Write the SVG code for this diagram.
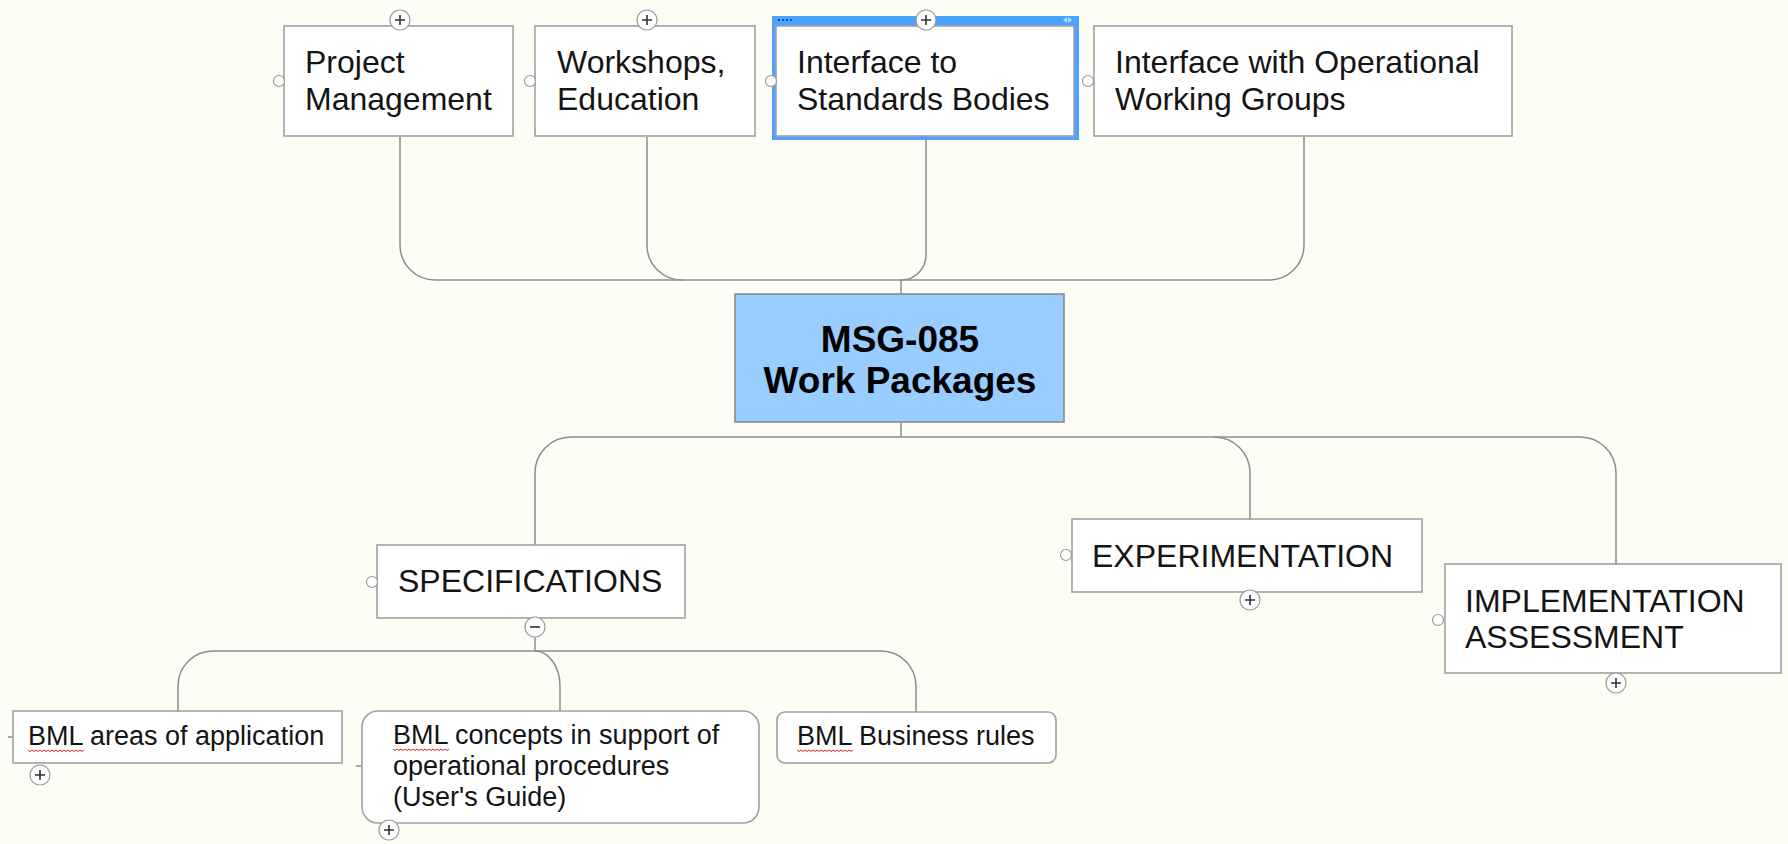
<svg xmlns="http://www.w3.org/2000/svg" xmlns:xlink="http://www.w3.org/1999/xlink" width="1788" height="844" viewBox="0 0 1788 844">
<style>
.box{fill:#ffffff;stroke:#a0a0a0;stroke-width:1.6}
.conn{fill:none;stroke:#8c8c8c;stroke-width:1.5}
.t{font-family:"Liberation Sans",Arial,sans-serif;font-size:32px;fill:#141414}
.t2{font-family:"Liberation Sans",Arial,sans-serif;font-size:27px;fill:#141414}
.tc{font-family:"Liberation Sans",Arial,sans-serif;font-size:37px;font-weight:bold;fill:#000;text-anchor:middle}
.hc{fill:#ffffff;stroke:#9a9a9a;stroke-width:1.2}
.pl{stroke:#333;stroke-width:1.6;fill:none}
.sq{fill:none;stroke:#e02020;stroke-width:1}
</style>
<defs>
<g id="plus"><circle class="hc" cx="0" cy="0" r="10"/><path class="pl" d="M-5,0H5M0,-5V5"/></g>
<g id="minus"><circle class="hc" cx="0" cy="0" r="10"/><path class="pl" d="M-5,0H5"/></g>
<circle id="lc" class="hc" cx="0" cy="0" r="5.5"/>
<path id="squig" class="sq" d="M0,0 l2,1.5 l2,-1.5 l2,1.5 l2,-1.5 l2,1.5 l2,-1.5 l2,1.5 l2,-1.5 l2,1.5 l2,-1.5 l2,1.5 l2,-1.5 l2,1.5 l2,-1.5 l2,1.5 l2,-1.5 l2,1.5 l2,-1.5 l2,1.5 l2,-1.5 l2,1.5 l2,-1.5 l2,1.5 l2,-1.5 l2,1.5 l2,-1.5 l2,1.5 l2,-1.5"/>
</defs>
<rect x="0" y="0" width="1788" height="844" fill="#fefdf5"/>

<g id="connectors">
<path class="conn" d="M400,137 V245 A35,35 0 0 0 435,280 H1269 A35,35 0 0 0 1304,245 V137"/>
<path class="conn" d="M647,137 V245 A35,35 0 0 0 682,280"/>
<path class="conn" d="M926,140 V255 A25,25 0 0 1 901,280"/>
<path class="conn" d="M901,280 V294"/>
<path class="conn" d="M901,422 V437"/>
<path class="conn" d="M535,545 V473 A36,36 0 0 1 571,437 H1580 A36,36 0 0 1 1616,473 V564"/>
<path class="conn" d="M1214,437 A36,36 0 0 1 1250,473 V519"/>
<path class="conn" d="M535,637 V651"/>
<path class="conn" d="M178,711 V686 A35,35 0 0 1 213,651 H881 A35,35 0 0 1 916,686 V712"/>
<path class="conn" d="M535,651 A25,35 0 0 1 560,686 V711"/>
<path class="conn" d="M8,737 H13"/>
<path class="conn" d="M356,766 H362"/>
</g>

<g id="project-management">
<rect class="box" x="284" y="26" width="229" height="110"/>
<text class="t" x="305" y="73">Project</text>
<text class="t" x="305" y="110">Management</text>
<use href="#plus" x="400" y="20"/>
<use href="#lc" x="279" y="81"/>
</g>

<g id="workshops">
<rect class="box" x="535" y="26" width="220" height="110"/>
<text class="t" x="557" y="73">Workshops,</text>
<text class="t" x="557" y="110">Education</text>
<use href="#plus" x="647" y="20"/>
<use href="#lc" x="530" y="81"/>
</g>

<g id="interface-standards">
<rect x="772" y="16" width="307" height="124" fill="#4aa3ff"/>
<rect x="776" y="26" width="298" height="110" fill="#ffffff" stroke="#a0a0a0" stroke-width="1.6"/>
<g fill="#1a4f9a"><rect x="778" y="19" width="2" height="2"/><rect x="782" y="19" width="2" height="2"/><rect x="786" y="19" width="2" height="2"/><rect x="790" y="19" width="2" height="2"/></g>
<polygon points="1063,20 1067,17 1067,23" fill="#b8dcff"/>
<polygon points="1072,20 1068,17 1068,23" fill="#b8dcff"/>
<text class="t" x="797" y="73">Interface to</text>
<text class="t" x="797" y="110">Standards Bodies</text>
<use href="#plus" x="926" y="20"/>
<use href="#lc" x="771" y="81"/>
</g>

<g id="interface-operational">
<rect class="box" x="1094" y="26" width="418" height="110"/>
<text class="t" x="1115" y="73">Interface with Operational</text>
<text class="t" x="1115" y="110">Working Groups</text>
<use href="#lc" x="1088" y="81"/>
</g>

<g id="center">
<rect x="735" y="294" width="329" height="128" fill="#99ccff" stroke="#8a8a8a" stroke-width="1.6"/>
<text class="tc" x="900" y="352">MSG-085</text>
<text class="tc" x="900" y="393">Work Packages</text>
</g>

<g id="specifications">
<rect class="box" x="377" y="545" width="308" height="73"/>
<text class="t" x="398" y="592">SPECIFICATIONS</text>
<use href="#lc" x="372" y="582"/>
<use href="#minus" x="535" y="627"/>
</g>

<g id="experimentation">
<rect class="box" x="1072" y="519" width="350" height="73"/>
<text class="t" x="1092" y="567">EXPERIMENTATION</text>
<use href="#lc" x="1066" y="555"/>
<use href="#plus" x="1250" y="600"/>
</g>

<g id="implementation">
<rect class="box" x="1445" y="564" width="336" height="109"/>
<text class="t" x="1465" y="612">IMPLEMENTATION</text>
<text class="t" x="1465" y="648">ASSESSMENT</text>
<use href="#lc" x="1438" y="620"/>
<use href="#plus" x="1616" y="683"/>
</g>

<g id="bml-areas">
<rect class="box" x="13" y="711" width="329" height="52"/>
<text class="t2" x="28" y="745">BML areas of application</text>
<use href="#squig" x="28" y="750"/>
<use href="#plus" x="40" y="775"/>
</g>

<g id="bml-concepts">
<rect class="box" x="362" y="711" width="397" height="112" rx="16"/>
<text class="t2" x="393" y="744">BML concepts in support of</text>
<text class="t2" x="393" y="775">operational procedures</text>
<text class="t2" x="393" y="806">(User's Guide)</text>
<use href="#squig" x="393" y="749"/>
<use href="#plus" x="389" y="830"/>
</g>

<g id="bml-business">
<rect class="box" x="777" y="712" width="279" height="51" rx="8"/>
<text class="t2" x="797" y="745">BML Business rules</text>
<use href="#squig" x="797" y="750"/>
</g>
</svg>
